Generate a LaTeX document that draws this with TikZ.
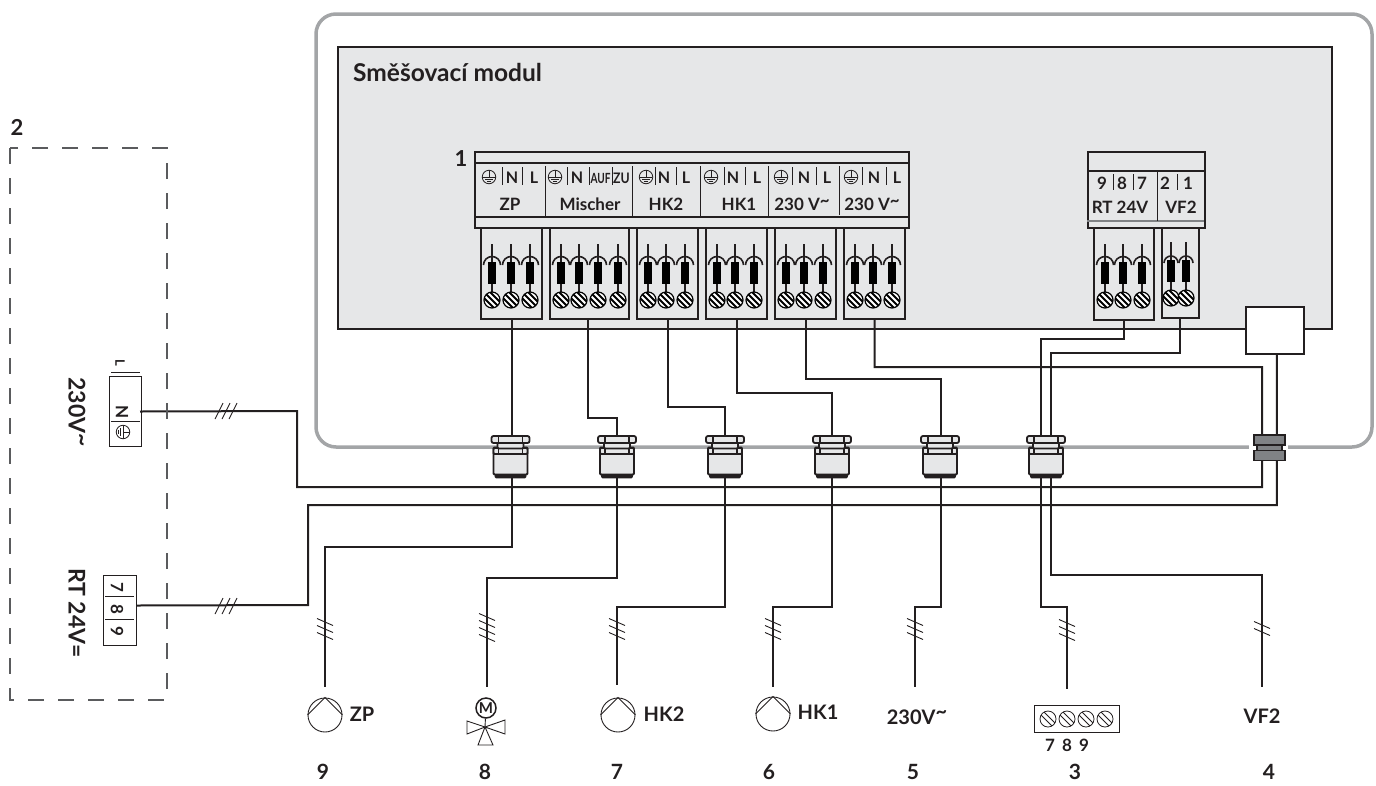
\documentclass[tikz,border=0pt]{standalone}
\usepackage{fontspec}
\setmainfont{Lato}
\usepackage{tikz}
\usetikzlibrary{backgrounds,calc}

\definecolor{panelgrey}{HTML}{E6E7E8}
\definecolor{framegrey}{HTML}{A3A5A7}
\definecolor{darkgrey}{HTML}{808285}
\definecolor{inkblack}{HTML}{231F20}

\begin{document}
\begin{tikzpicture}[x=1pt,y=-1pt,font=\bfseries\fontsize{20}{22}\selectfont,text=inkblack]
    % `cable' is a wire, `hair' the thin strokes inside the symbols.
    % `screw' and `pin' build up one terminal of a connector.
    % `gland' is the cable gland, `strain' the clamp on the right.
    \tikzstyle{cable} = [draw=inkblack,line width=2pt,line join=miter]
    \tikzstyle{hair} = [draw=inkblack,line width=0.9pt]
    \tikzstyle{connbox} = [draw=inkblack,fill=panelgrey,line width=2pt,inner sep=0pt,anchor=north west]
    \tikzstyle{pin} = [fill=black,draw=none,minimum width=7.5pt,minimum height=22pt,inner sep=0pt]
    \tikzstyle{screw} = [draw=black,fill=white,circle,line width=1.2pt,minimum size=16pt,inner sep=0pt,path picture={
\foreach \s in {-1,0,1} \draw[line width=1.8pt,black] ($(path picture bounding box.center)+(\s*3-9,-\s*3-9)$) -- ($(path picture bounding box.center)+(\s*3+9,-\s*3+9)$);
}]
    \tikzstyle{gland} = [draw=inkblack,fill=panelgrey,line width=1.8pt,inner sep=0pt,rounded corners=1pt]
    \tikzstyle{strain} = [draw=inkblack,fill=darkgrey,line width=1.8pt,inner sep=0pt]
    \tikzstyle{pump} = [draw=inkblack,circle,line width=0.9pt,minimum size=34pt,inner sep=0pt]
    \tikzstyle{small} = [font=\bfseries\fontsize{17}{19}\selectfont,inner sep=0pt]
    \tikzstyle{big} = [font=\bfseries\fontsize{23}{25}\selectfont,inner sep=0pt]
    \tikzstyle{earth} = [draw=inkblack,circle,line width=0.8pt,minimum size=13.5pt,inner sep=0pt,path picture={
\draw[line width=0.8pt] ($(path picture bounding box.center)+(0,-7)$) -- ($(path picture bounding box.center)+(0,0)$) ($(path picture bounding box.center)+(-7,0)$) -- ($(path picture bounding box.center)+(7,0)$) ($(path picture bounding box.center)+(-4,2.5)$) -- ($(path picture bounding box.center)+(4,2.5)$) ($(path picture bounding box.center)+(-2,4.7)$) -- ($(path picture bounding box.center)+(2,4.7)$);
}]
    %
    \useasboundingbox (0,0) rectangle (1376,785);
    % Housing and module panel.
    \draw[draw=framegrey,line width=3.5pt,rounded corners=20pt] (316,14) rectangle (1372,447);
    \node[draw=inkblack,fill=panelgrey,line width=1.8pt,inner sep=0pt,anchor=north west,minimum width=994pt,minimum height=282pt] (panel) at (337,46) {};
    \node[anchor=west,inner sep=0pt,font=\bfseries\fontsize{24.5}{26}\selectfont] (title) at (353,72) {Směšovací modul};
    % Connector boxes.
    \node[connbox,minimum width=61pt,minimum height=91pt] (boxZP) at (480,227) {};
    \node[connbox,minimum width=79pt,minimum height=91pt] (boxMischer) at (549,227) {};
    \node[connbox,minimum width=61pt,minimum height=91pt] (boxHKb) at (636,227) {};
    \node[connbox,minimum width=61pt,minimum height=91pt] (boxHKa) at (705,227) {};
    \node[connbox,minimum width=61pt,minimum height=91pt] (boxNa) at (774,227) {};
    \node[connbox,minimum width=61pt,minimum height=91pt] (boxNb) at (843,227) {};
    \node[connbox,minimum width=60pt,minimum height=92pt] (boxRT) at (1093,227) {};
    \node[connbox,minimum width=37pt,minimum height=92pt] (boxVF) at (1160.5,225) {};
    \node[draw=inkblack,fill=white,line width=1.5pt,inner sep=0pt,minimum width=58pt,minimum height=47pt,anchor=north west] (sensor) at (1245,306) {};
    % Terminal bars.
    \node[connbox,minimum width=434pt,minimum height=76pt] (bar) at (474,151) {};
    \node[connbox,minimum width=117pt,minimum height=76pt] (barR) at (1087,151) {};
    \draw[hair,line width=1.2pt] (474,163) -- (908,163) (474,217) -- (908,217) (1087,171) -- (1204,171);
    \draw[draw=darkgrey,line width=1.2pt] (1087,221) -- (1204,221);
    \draw[hair] (545,166) -- (545,217) (632,166) -- (632,217) (700,166) -- (700,217) (768,166) -- (768,217) (839,166) -- (839,215) (1157,171) -- (1157,221);
    \foreach \sx in {502,522,567,589,612,655,676,724,745,792,816,862,886,1113,1133,1177}
      \draw[hair] (\sx,\ifnum\sx>1000 174\else 167\fi) -- (\sx,\ifnum\sx>1000 190\else 185\fi);
    % Labels in the bar.
    \foreach \ex in {489,555,646,711,781,851}
      \node[earth] at (\ex,177) {};
    \foreach \lx/\lt in {512/N,534/L,577/N,664/N,686/L,733/N,757/L,804/N,827/L,874/N,897/L}
      \node[small,font=\bfseries\fontsize{16}{18}\selectfont] at (\lx,178) {\lt};
    \node[small,xscale=0.72,font=\bfseries\fontsize{14}{15}\selectfont] at (600.5,178) {AUF};
    \node[small,xscale=0.85,font=\bfseries\fontsize{14.5}{15}\selectfont] at (621.5,178) {ZU};
    \node[small] (lblZP) at (510,204) {ZP};
    \node[small] (lblMischer) at (590,204) {Mischer};
    \node[small] (lblHKb) at (666,204) {HK2};
    \node[small] (lblHKa) at (739,204) {HK1};
    \node[small] (lblNa) at (802,204) {230 V\raisebox{4pt}{\textasciitilde}};
    \node[small] (lblNb) at (872,204) {230 V\raisebox{4pt}{\textasciitilde}};
    \foreach \lx/\lt in {1102/9,1122/8,1142/7,1165/2,1188/1}
      \node[small] at (\lx,183) {\lt};
    \node[small] (lblRT) at (1120,207) {RT 24V};
    \node[small] (lblVF) at (1181,207) {VF2};
    \node[inner sep=0pt,font=\bfseries\fontsize{22}{24}\selectfont] (one) at (461,159) {1};
    % Terminals.
    \foreach \tx/\ty/\tr in {492/0/8.5,511/0/8.5,530/0/8.5,561/0/8.5,579/0/8.5,598/0/8.5,618/0/8.5,648/0/8.5,666/0/8.5,685/0/8.5,717/0/8.5,735/0/8.5,754/0/8.5,786/0/8.5,804/0/8.5,823/0/8.5,855/0/8.5,873/0/8.5,892/0/8.5,1105/0/8.5,1123/0/8.5,1142/0/8.5,1171/-2/7,1186/-2/7}{
      \draw[hair,line width=1.2pt] (\tx,244+\ty) -- (\tx,262+\ty);
      \draw[hair,line width=1.6pt] (\tx-\tr,265+\ty) arc[start angle=180,end angle=360,radius=\tr];
      \node[pin] at (\tx,273+\ty) {};
      \draw[hair,line width=1.2pt] (\tx,284+\ty) -- (\tx,293+\ty);
      \node[screw] at (\tx,300+\ty) {};
    }
    % Cables.
    \coordinate (endZP) at (325,687);
    \coordinate (endMischer) at (487,687);
    \coordinate (endHKb) at (617,685);
    \coordinate (endHKa) at (773,687);
    \coordinate (endNa) at (915,687);
    \coordinate (endStrip) at (1067,689);
    \coordinate (endVF) at (1262,687);
    \draw[cable] (boxZP.south) |- (325,547) -- (endZP);
    \draw[cable] ([xshift=-1.5pt]boxMischer.south) |- (617,418) -- (617,578) -- (487,578) -- (endMischer);
    \draw[cable] (boxHKb.south) |- (725,407) -- (725,607) -- (617,607) -- (endHKb);
    \draw[cable] (boxHKa.south) |- (832,393) -- (832,607) -- (773,607) -- (endHKa);
    \draw[cable] (boxNa.south) |- (941,379) -- (941,607) -- (915,607) -- (endNa);
    \draw[cable] (boxRT.south) |- (1041,339) -- (1041,607) -- (1067,607) -- (endStrip);
    \draw[cable] (boxVF.south) |- (1051,353) -- (1051,575) -- (1262,575) -- (endVF);
    % Left terminals.
    \node[draw=inkblack,line width=1pt,fill=white,inner sep=0pt,minimum width=32pt,minimum height=70pt,anchor=north west] (mains) at (109,376) {};
    \node[draw=inkblack,line width=1pt,fill=white,inner sep=0pt,minimum width=33pt,minimum height=70pt,anchor=north west] (room) at (103,575) {};
    \draw[cable] ([xshift=-2pt]mains.east) -- (297,411) -- (297,487) -- (1262,487) -- (1262,367) -| (boxNb.south);
    \draw[cable] ([yshift=5pt]room.east) -- (308,605) -- (308,505) -| ([xshift=2pt]sensor.south);
    % Glands, placed over the cables.
    \draw[draw=white,line width=5pt] (1249,447) -- (1288,447);
    \foreach \gx/\gname in {510.5/ZP,617/Mischer,725/HKb,832/HKa,940/Na,1046/RT}{
      \node[gland,minimum width=30pt,minimum height=3pt,fill=inkblack] at (\gx,476) {};
      \node[gland,minimum width=34pt,minimum height=27pt] (gland\gname) at (\gx,461) {};
      \node[gland,minimum width=34pt,minimum height=6pt] at (\gx,451) {};
      \node[gland,minimum width=26pt,minimum height=6pt] at (\gx,445.5) {};
      \node[gland,minimum width=38pt,minimum height=7pt,rounded corners=2pt] at (\gx,439.5) {};
      \draw[hair,line width=1.2pt] (\gx-12,436) -- (\gx-12,443) (\gx+12,436) -- (\gx+12,443) (\gx-12,448) -- (\gx-12,454) (\gx+12,448) -- (\gx+12,454);
    }
    \node[strain,minimum width=25pt,minimum height=7pt] (clampM) at (1269.5,448) {};
    \node[strain,minimum width=31pt,minimum height=10pt] (clampT) at (1269.5,440) {};
    \node[strain,minimum width=31pt,minimum height=10pt] (clampB) at (1269.5,455.5) {};
    % Cable marks.
    \foreach \hy in {622,629,636}{
      \draw[hair] (317,\hy-3.5) -- (333,\hy+3.5);
      \draw[hair] (609,\hy-3.5) -- (625,\hy+3.5);
      \draw[hair] (765,\hy-3.5) -- (781,\hy+3.5);
      \draw[hair] (907,\hy-3.5) -- (923,\hy+3.5);
      \draw[hair] (1059,\hy-2.5) -- (1075,\hy+4.5);
    }
    \foreach \hy in {617,624,631,638}
      \draw[hair] (479,\hy-3.5) -- (495,\hy+3.5);
    \foreach \hy in {625,632}
      \draw[hair] (1254,\hy-3.5) -- (1270,\hy+3.5);
    \foreach \hx in {219,226,233}{
      \draw[hair] (\hx-4,419) -- (\hx+4,403);
      \draw[hair] (\hx-4,614) -- (\hx+4,598);
    }
    % Dashed box of the room unit.
    \draw[draw=darkgrey!70!black,line width=1.2pt,dash pattern=on 16pt off 14pt] (10,148) rectangle (167,700);
    \node[inner sep=0pt,font=\bfseries\fontsize{22}{24}\selectfont] (two) at (17,127) {2};
    % Wall terminal labels.
    \draw[hair] (111,372) -- (140,372) (111,421) -- (140,421) (105,596) -- (134,596) (105,619) -- (134,619);
    \node[small,rotate=-90,font=\bfseries\fontsize{13}{14}\selectfont] at (120,363) {L};
    \node[small,rotate=-90] at (122,412) {N};
    \node[earth,rotate=-90] at (123,432) {};
    \node[small,rotate=-90] at (117,587) {7};
    \node[small,rotate=-90] at (117,609) {8};
    \node[small,rotate=-90] at (117,631) {9};
    \node[big,rotate=-90] (lblMains) at (77,412) {230V\raisebox{6pt}{\textasciitilde}};
    \node[big,rotate=-90] (lblRoom) at (77,613) {RT 24V=};
    % Loads along the bottom.
    \node[pump] (pumpZP) at (325,715) {};
    \node[pump] (pumpHKb) at (618,715) {};
    \node[pump] (pumpHKa) at (773,714) {};
    \draw[hair] (pumpZP.west) -- (pumpZP.north) -- (pumpZP.east);
    \draw[hair] (pumpHKb.west) -- (pumpHKb.north) -- (pumpHKb.east);
    \draw[hair] (pumpHKa.west) -- (pumpHKa.north) -- (pumpHKa.east);
    \node[inner sep=0pt] (lblpZP) at (362,714) {ZP};
    \node[inner sep=0pt] (lblpHKb) at (664,714) {HK2};
    \node[inner sep=0pt] (lblpHKa) at (818,712) {HK1};
    \node[hair,draw,circle,line width=1.5pt,minimum size=20pt,inner sep=0pt,font=\bfseries\fontsize{15}{16}\selectfont] (motor) at (486,708) {M};
    \coordinate (valve) at (485,727);
    \draw[hair] (motor) -- (valve);
    \draw[hair] (valve) -- (467,721) -- (467,734) -- cycle (valve) -- (505,720) -- (505,734) -- cycle (valve) -- (478,745) -- (493,745) -- cycle;
    \node[inner sep=0pt] (lblpN) at (917,717) {230V\raisebox{6pt}{\textasciitilde}};
    \node[draw=inkblack,line width=1pt,inner sep=0pt,minimum width=85pt,minimum height=27pt,anchor=north west] (strip) at (1034,705) {};
    \foreach \sx in {1048,1067,1086,1105}
      \node[draw=inkblack,circle,line width=0.8pt,minimum size=16pt,inner sep=0pt,path picture={
\foreach \s in {-1,1} \draw[line width=0.8pt] ($(path picture bounding box.center)+(\s*1.5-9,-\s*1.5-9)$) -- ($(path picture bounding box.center)+(\s*1.5+9,-\s*1.5+9)$);
}] at (\sx,719) {};
    \foreach \lx/\lt in {1050/7,1067/8,1084/9}
      \node[small] at (\lx,745) {\lt};
    \node[inner sep=0pt] (lblpVF) at (1262,716) {VF2};
    \foreach \nx/\nt in {323/9,485/8,617/7,769/6,913/5,1075/3,1269/4}
      \node[inner sep=0pt,font=\bfseries\fontsize{21}{23}\selectfont] at (\nx,772) {\nt};
\end{tikzpicture}
\end{document}
